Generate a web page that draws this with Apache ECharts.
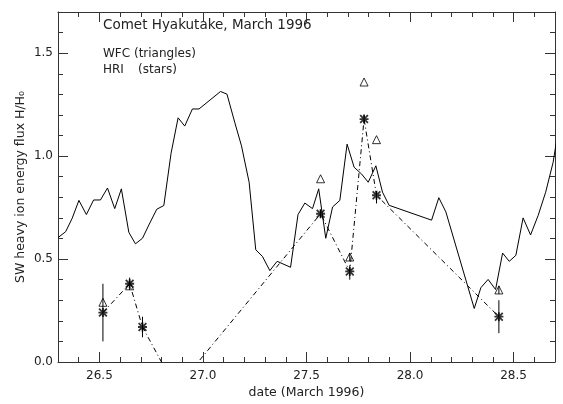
<!DOCTYPE html>
<html>
<head>
<meta charset="utf-8">
<script src="https://cdn.jsdelivr.net/npm/echarts@6/dist/echarts.min.js"></script>
<style>
  html, body { margin: 0; padding: 0; background: #fff; }
  #chart { width: 563px; height: 404px; }
</style>
</head>
<body>
<div id="chart"></div>
<script>
// Solar-wind heavy ion energy flux, continuous trace (solid line)
const swDates = [26.300, 26.337, 26.368, 26.401, 26.437, 26.472, 26.505, 26.539, 26.574, 26.606,
                 26.642, 26.674, 26.708, 26.741, 26.777, 26.811, 26.846, 26.880, 26.912, 26.949,
                 26.981, 27.085, 27.116, 27.154, 27.186, 27.223, 27.255, 27.287, 27.323, 27.358,
                 27.423, 27.459, 27.492, 27.529, 27.559, 27.593, 27.626, 27.661, 27.696, 27.730,
                 27.766, 27.798, 27.835, 27.867, 27.899, 28.104, 28.139, 28.173, 28.310, 28.342,
                 28.377, 28.413, 28.447, 28.479, 28.511, 28.546, 28.582, 28.619, 28.655, 28.691,
                 28.710];
const swFlux  = [0.604, 0.633, 0.697, 0.785, 0.716, 0.787, 0.787, 0.845, 0.745, 0.841,
                 0.630, 0.574, 0.601, 0.670, 0.742, 0.760, 1.014, 1.186, 1.146, 1.229,
                 1.229, 1.314, 1.301, 1.162, 1.050, 0.873, 0.545, 0.513, 0.444, 0.489,
                 0.460, 0.716, 0.772, 0.745, 0.841, 0.601, 0.753, 0.785, 1.058, 0.946,
                 0.913, 0.873, 0.953, 0.825, 0.761, 0.689, 0.798, 0.729, 0.260, 0.361,
                 0.401, 0.352, 0.529, 0.489, 0.518, 0.700, 0.617, 0.713, 0.825, 0.970,
                 1.090];

// HRI measurements (stars, dash-dot line); the negative value falls below the axis
const hriDates = [26.517, 26.646, 26.708, 26.870, 27.568, 27.709, 27.778, 27.838, 28.429];
const hriFlux  = [0.24,   0.38,   0.17,   -0.13,  0.72,   0.44,   1.18,   0.81,   0.22];
const hriErrLo = [0.10,   0.35,   0.12,   null,   0.70,   0.40,   1.16,   0.77,   0.14];
const hriErrHi = [0.38,   0.41,   0.22,   null,   0.74,   0.47,   1.20,   0.83,   0.30];

// WFC measurements (open triangles)
const wfcDates = [26.517, 26.646, 27.568, 27.709, 27.778, 27.838, 28.429];
const wfcFlux  = [0.29,   0.37,   0.89,   0.51,   1.36,   1.08,   0.35];
const wfcErrLo = [null,   null,   null,   0.49,   null,   null,   0.33];
const wfcErrHi = [null,   null,   null,   0.53,   null,   null,   0.37];

// Axis ranges and labelled ticks
const xRange = [26.3, 28.7];
const yRange = [0, 1.7];
const xMajorTicks = [26.5, 27.0, 27.5, 28.0, 28.5];
const yMajorTicks = [0.0, 0.5, 1.0, 1.5];

const FONT = '"DejaVu Sans", "Liberation Sans", sans-serif';
const INK = '#222';
const axisLineStyle = { color: '#333', width: 1 };

// Each side gets two overlaid axes: one for the 0.1 minor ticks, one for the long major ticks
function makeAxis(dim, position, major, withLabels) {
  const range = dim === 'x' ? xRange : yRange;
  const majors = dim === 'x' ? xMajorTicks : yMajorTicks;
  const ax = {
    type: 'value',
    position: position,
    min: range[0],
    max: range[1],
    splitLine: { show: false },
    axisLine: { show: !major, onZero: false, lineStyle: axisLineStyle },
    axisTick: { show: true, inside: true, length: major ? 10 : 5, lineStyle: axisLineStyle },
    axisLabel: { show: false }
  };
  if (major) {
    ax.axisTick.customValues = majors;
    if (withLabels) {
      ax.axisLabel = {
        show: true,
        customValues: majors,
        formatter: v => v.toFixed(1),
        fontFamily: FONT,
        fontSize: 12,
        color: INK,
        margin: dim === 'x' ? 8 : 5
      };
    }
  } else {
    ax.interval = 0.1;
  }
  return ax;
}

const xAxes = [
  makeAxis('x', 'bottom', false, false),
  makeAxis('x', 'bottom', true, true),
  makeAxis('x', 'top', false, false),
  makeAxis('x', 'top', true, false)
];
Object.assign(xAxes[0], {
  name: 'date (March 1996)',
  nameLocation: 'middle',
  nameGap: 24,
  nameTextStyle: { fontFamily: FONT, fontSize: 12.5, color: INK }
});

const yAxes = [
  makeAxis('y', 'left', false, false),
  makeAxis('y', 'left', true, true),
  makeAxis('y', 'right', false, false),
  makeAxis('y', 'right', true, false)
];
Object.assign(yAxes[0], {
  name: 'SW heavy ion energy flux H/H\u2080',
  nameLocation: 'middle',
  nameGap: 31,
  nameTextStyle: { fontFamily: FONT, fontSize: 12.5, color: INK }
});

// Asterisk marker built from four bars
const STAR = 'path://M8,0L12,0L12,20L8,20Z M0,8L20,8L20,12L0,12Z ' +
             'M0,2.8L2.8,0L20,17.2L17.2,20Z M17.2,0L20,2.8L2.8,20L0,17.2Z';

const pairs = (xs, ys) => xs.map((x, i) => [x, ys[i]]);
const errRows = (xs, lo, hi) => xs.map((x, i) => [x, lo[i], hi[i]]).filter(r => r[1] !== null);

function renderErrBar(params, api) {
  const a = api.coord([api.value(0), api.value(1)]);
  const b = api.coord([api.value(0), api.value(2)]);
  return {
    type: 'line',
    shape: { x1: a[0], y1: a[1], x2: b[0], y2: b[1] },
    style: { stroke: '#000', lineWidth: 1 }
  };
}

const chart = echarts.init(document.getElementById('chart'), null, { renderer: 'canvas' });
chart.setOption({
  animation: false,
  backgroundColor: '#fff',
  grid: { left: 58, right: 8, top: 12, bottom: 39 },
  xAxis: xAxes,
  yAxis: yAxes,
  graphic: [
    { type: 'text', x: 103, y: 25.7,
      style: { text: 'Comet Hyakutake, March 1996', fontFamily: FONT, fontSize: 13.5, fill: INK, verticalAlign: 'middle' } },
    { type: 'text', x: 103, y: 53.5,
      style: { text: 'WFC (triangles)', fontFamily: FONT, fontSize: 12, fill: INK, verticalAlign: 'middle' } },
    { type: 'text', x: 103, y: 69.5,
      style: { text: 'HRI', fontFamily: FONT, fontSize: 12, fill: INK, verticalAlign: 'middle' } },
    { type: 'text', x: 138, y: 69.5,
      style: { text: '(stars)', fontFamily: FONT, fontSize: 12, fill: INK, verticalAlign: 'middle' } }
  ],
  series: [
    {
      name: 'SW flux',
      type: 'line',
      data: pairs(swDates, swFlux),
      symbol: 'none',
      clip: true,
      lineStyle: { color: '#000', width: 1 },
      z: 2
    },
    {
      name: 'HRI line',
      type: 'line',
      data: pairs(hriDates, hriFlux),
      symbol: 'none',
      clip: true,
      lineStyle: { color: '#000', width: 1, type: [5, 3, 1, 3] },
      z: 3
    },
    {
      name: 'HRI errors',
      type: 'custom',
      data: errRows(hriDates, hriErrLo, hriErrHi),
      encode: { x: 0, y: [1, 2] },
      renderItem: renderErrBar,
      z: 4
    },
    {
      name: 'WFC errors',
      type: 'custom',
      data: errRows(wfcDates, wfcErrLo, wfcErrHi),
      encode: { x: 0, y: [1, 2] },
      renderItem: renderErrBar,
      z: 4
    },
    {
      name: 'WFC',
      type: 'scatter',
      data: pairs(wfcDates, wfcFlux),
      symbol: 'triangle',
      symbolSize: [8, 8],
      itemStyle: { color: 'rgba(0,0,0,0)', borderColor: '#000', borderWidth: 1 },
      z: 5
    },
    {
      name: 'HRI',
      type: 'scatter',
      data: pairs(hriDates, hriFlux).filter(p => p[1] >= 0),
      symbol: STAR,
      symbolSize: 9,
      itemStyle: { color: '#000' },
      z: 6
    }
  ]
});
</script>
</body>
</html>
